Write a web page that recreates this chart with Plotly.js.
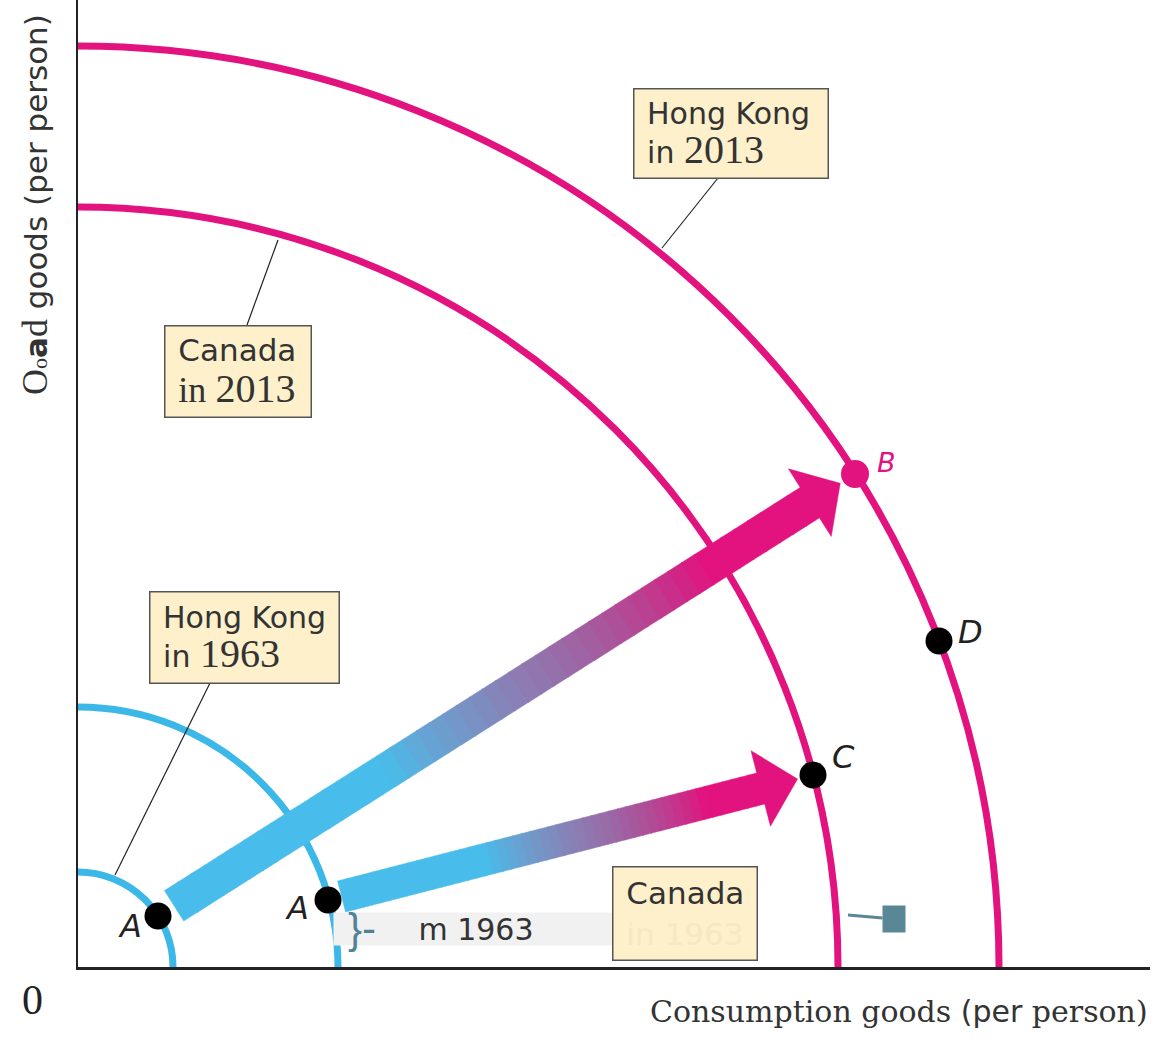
<!DOCTYPE html>
<html>
<head>
<meta charset="utf-8">
<script src="https://cdn.plot.ly/plotly-3.0.1.min.js"></script>
<style>html,body{margin:0;padding:0;background:#fff;}#chart{width:1159px;height:1040px;}</style>
</head>
<body>
<div id="chart"></div>
<script>
// ---- data ----
const curveNames = ["Hong Kong in 1963", "Canada in 1963", "Canada in 2013", "Hong Kong in 2013"];
const curveRadii = [9.5, 26, 76, 92.1];
const pointNames = ["A", "A", "B", "C", "D"];
const pointX = [8.0, 25.0, 77.7, 73.5, 86.1];
const pointY = [5.1, 6.7, 49.3, 19.2, 32.6];
const arrowFrom = [0, 1];
const arrowTo = [2, 3];
const boxLine1 = ["Hong Kong", "Canada", "Hong Kong", "Canada"];
const boxLine2 = ["in ", "in ", "in ", "in "];
const boxYear = ["2013", "2013", "1963", "1963"];
const boxX = [65.25, 15.95, 16.6, 60.65];
const boxY = [83.4, 59.6, 33.0, 5.4];
const leaderCurveX = [58.4, 20.0, 3.7];
const leaderCurveY = [71.9, 72.7, 9.2];
const leaderBoxX = [64.0, 16.9, 13.2];
const leaderBoxY = [78.9, 64.2, 28.4];
const xTitle = "Consumption goods (per person)";
const yTitle = "goods (per person)";

// ---- style ----
const MAG = "#e2137f", BLUE = "#3cb8e8";
const curveColors = [BLUE, BLUE, MAG, MAG];
const magRGB = [226, 19, 127], blueRGB = [72, 188, 234];

function gradColor(f) {
  const a = 0.32, b = 0.8;
  let t = (f - a) / (b - a);
  t = Math.max(0, Math.min(1, t));
  const c = blueRGB.map((v, i) => Math.round(v + (magRGB[i] - v) * t));
  // desaturate the middle a little (greyish purple like the reference)
  const g = 4 * t * (1 - t) * 0.25;
  const avg = (c[0] + c[1] + c[2]) / 3;
  const d = c.map(v => Math.round(v + (avg - v) * g));
  return "rgb(" + d.join(",") + ")";
}

const traces = [];
function addArrow(p0, p1, gap0, gap1, halfW, headHalf, headLen) {
  const dx = p1[0] - p0[0], dy = p1[1] - p0[1];
  const L = Math.hypot(dx, dy);
  const ux = dx / L, uy = dy / L, nx = -uy, ny = ux;
  const Sx = p0[0] + ux * gap0, Sy = p0[1] + uy * gap0;
  const total = L - gap0 - gap1;
  const shaft = total - headLen;
  const N = 48;
  for (let i = 0; i < N; i++) {
    const a = i / N * shaft;
    const b = Math.min((i + 1) / N * shaft + 0.1, shaft + 0.1);
    const col = gradColor((a + b) / 2 / total);
    const ax = Sx + ux * a, ay = Sy + uy * a, bx = Sx + ux * b, by = Sy + uy * b;
    traces.push({
      type: "scatter", mode: "lines", fill: "toself", fillcolor: col,
      line: {color: col, width: 0.5}, hoverinfo: "skip", showlegend: false,
      x: [ax + nx * halfW, bx + nx * halfW, bx - nx * halfW, ax - nx * halfW, ax + nx * halfW],
      y: [ay + ny * halfW, by + ny * halfW, by - ny * halfW, ay - ny * halfW, ay + ny * halfW]
    });
  }
  const Hx = Sx + ux * shaft, Hy = Sy + uy * shaft;
  const Tx = Sx + ux * total, Ty = Sy + uy * total;
  traces.push({
    type: "scatter", mode: "lines", fill: "toself", fillcolor: MAG,
    line: {color: MAG, width: 0.5}, hoverinfo: "skip", showlegend: false,
    x: [Hx + nx * headHalf, Tx, Hx - nx * headHalf, Hx + nx * headHalf],
    y: [Hy + ny * headHalf, Ty, Hy - ny * headHalf, Hy + ny * headHalf]
  });
}
const arrowStyle = [
  {g0: 1.9, g1: 1.75, hw: 1.8, hh: 4.0, hl: 3.6},
  {g0: 1.4, g1: 1.6, hw: 1.6, hh: 3.9, hl: 3.8}
];
arrowFrom.forEach((f, k) => {
  const s = arrowStyle[k];
  addArrow([pointX[f], pointY[f]], [pointX[arrowTo[k]], pointY[arrowTo[k]]], s.g0, s.g1, s.hw, s.hh, s.hl);
});

traces.push({
  type: "scatter", mode: "markers", x: pointX, y: pointY, hoverinfo: "skip", showlegend: false,
  marker: {size: [27, 27, 28, 27, 27], opacity: 1, color: ["#000", "#000", MAG, "#000", "#000"], line: {width: 0}}
});

const shapes = [];
curveRadii.forEach((r, i) => {
  shapes.push({type: "circle", xref: "x", yref: "y", x0: -r, y0: -r, x1: r, y1: r,
    line: {color: curveColors[i], width: 7}, fillcolor: "rgba(0,0,0,0)", layer: "below"});
});
leaderCurveX.forEach((x, i) => {
  shapes.push({type: "line", xref: "x", yref: "y", x0: x, y0: leaderCurveY[i], x1: leaderBoxX[i], y1: leaderBoxY[i],
    line: {color: "#222", width: 1.2}, layer: "above"});
});

const SANS = "DejaVu Sans", SERIF = "Liberation Serif";
const annotations = [];
// point labels
const labelShiftX = [-28, -31, 31, 30, 31];
const labelShiftY = [-10, -8, 12, 18, 9];
const labelSize = [32, 32, 27, 32, 32];
pointNames.forEach((n, i) => {
  annotations.push({x: pointX[i], y: pointY[i], xref: "x", yref: "y", showarrow: false,
    text: "<i>" + n + "</i>", xshift: labelShiftX[i], yshift: labelShiftY[i],
    font: {family: SANS, size: labelSize[i], color: i === 2 ? MAG : "#222"}});
});
// gray strip with "m 1963"
annotations.push({x: 39.2, y: 3.8, xref: "x", yref: "y", showarrow: false, text: "m 1963",
  width: 284, height: 32, bgcolor: "#f1f1f1", borderpad: 0, xshift: 6,
  font: {family: SANS, size: 30, color: "#333"}});
annotations.push({x: 28.4, y: 3.9, xref: "x", yref: "y", showarrow: false, text: "}-",
  font: {family: "Liberation Sans", size: 42, color: "#4f8497"}});
// teal flag
annotations.push({x: 77.0, y: 5.2, xref: "x", yref: "y", showarrow: true, arrowhead: 0,
  arrowwidth: 3, arrowcolor: "#5a8796", ax: 46, ay: 4, standoff: 0, text: " ",
  width: 22, height: 26, bgcolor: "#5a8796", borderpad: 0, font: {size: 10}});
// boxes
const boxW = [195, 147, 190, 145], boxH = [90, 92, 92, 94];
boxLine1.forEach((t, i) => {
  const inFont = i === 1 ? SERIF : SANS;
  const inSize = i === 1 ? 36 : 30;
  let line2 = "<span style='font-family:" + inFont + ";font-size:" + inSize + "px'>" + boxLine2[i] + "</span>" +
    "<span style='font-family:" + SERIF + ";font-size:40px'>" + boxYear[i] + "</span>";
  if (i === 3) line2 = "<span style='color:#f6e8c2'>" + boxLine2[i] + boxYear[i] + "</span>";
  annotations.push({x: boxX[i], y: boxY[i], xref: "x", yref: "y", showarrow: false,
    text: "\u00a0" + t + "<br>\u00a0" + line2, align: "left", valign: "middle",
    width: boxW[i] - 8, height: boxH[i] - 8, borderpad: 3, borderwidth: 1.5,
    bordercolor: "#555", bgcolor: "#fdf0cb",
    font: {family: SANS, size: i === 1 || i === 3 ? 31 : 30, color: "#333"}});
});
// axis titles and origin
annotations.push({xref: "paper", yref: "paper", x: 1.0, y: -0.0465, xanchor: "right", yanchor: "middle",
  showarrow: false,
  text: "Consumption goods <span style='font-family:" + SANS + "'>(per</span> person)",
  font: {family: "DejaVu Serif", size: 30, color: "#333"}});
annotations.push({xref: "paper", yref: "paper", x: -0.0401, y: 0.788, xanchor: "center", yanchor: "middle",
  showarrow: false, textangle: -90,
  text: "<span style='font-family:" + SERIF + ";font-size:36px'>O</span><span style='font-family:" + SERIF + ";font-size:22px'>o</span><b>a</b><span style='font-family:" + SERIF + ";font-size:36px'>d</span> " + yTitle,
  font: {family: SANS, size: 31, color: "#333"}});
annotations.push({xref: "paper", yref: "paper", x: -0.042, y: -0.034, xanchor: "center", yanchor: "middle",
  showarrow: false, text: "0", font: {family: SERIF, size: 42, color: "#222"}});

const axisBase = {showgrid: false, zeroline: false, showticklabels: false, ticks: "", showline: true, fixedrange: true};
const layout = {
  width: 1159, height: 1040,
  margin: {l: 78, r: 9, t: 0, b: 73, pad: 0},
  paper_bgcolor: "#fff", plot_bgcolor: "#fff",
  showlegend: false, hovermode: false,
  xaxis: Object.assign({}, axisBase, {range: [0, 107.2], linecolor: "#222", linewidth: 3}),
  yaxis: Object.assign({}, axisBase, {range: [0, 96.7], linecolor: "#222", linewidth: 2}),
  shapes: shapes, annotations: annotations
};
Plotly.newPlot("chart", traces, layout, {displayModeBar: false, staticPlot: true});
</script>
</body>
</html>
